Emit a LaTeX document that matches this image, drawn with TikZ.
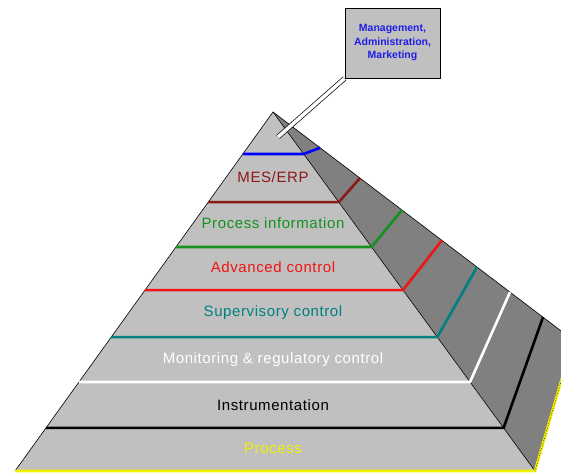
\documentclass[tikz,border=0pt]{standalone}
\usepackage{fontspec}
\setmainfont{Liberation Sans}
\usepackage{xcolor}
\usetikzlibrary{calc}

\definecolor{facegray}{RGB}{192,192,192}
\definecolor{sidegray}{RGB}{128,128,128}
\definecolor{mesred}{RGB}{140,24,24}
\definecolor{infogreen}{RGB}{20,145,30}
\definecolor{advred}{RGB}{240,20,20}
\definecolor{supteal}{RGB}{0,128,128}
\definecolor{boxblue}{RGB}{30,30,230}
\definecolor{procyellow}{RGB}{240,240,0}

\tikzset{
	tier/.style = {font = \fontsize{15}{18}\selectfont\addfontfeatures{LetterSpace=4}},
	band/.style = {line width = 2.6pt, line join = bevel},
	edge/.style = {line width = 0.6pt, black},
}

\begin{document}
\begin{tikzpicture}[x = 1pt, y = -1pt]
		\useasboundingbox (0,0) rectangle (561,473);
		\clip (0,0) rectangle (561,473);
		
		\coordinate (apex) at (273,112);
		\coordinate (bl) at (15,471);
		\coordinate (br) at (535,471);
		\coordinate (bk) at (573,340);
		
		% faces
		\fill [sidegray] (apex) -- (bk) -- (br) -- cycle;
		\fill [facegray] (apex) -- (bl) -- (br) -- cycle;
		\draw [edge] (bl) -- (apex) -- (br);
		\draw [edge] (apex) -- (bk);
		
		% layer boundaries
		\draw [band, blue] ($(apex)!0.117!(bl)$) -- ($(apex)!0.117!(br)$) -- ($(apex)!0.157!(bk)$);
		\draw [band, mesred] ($(apex)!0.251!(bl)$) -- ($(apex)!0.251!(br)$) -- ($(apex)!0.29!(bk)$);
		\draw [band, infogreen] ($(apex)!0.376!(bl)$) -- ($(apex)!0.376!(br)$) -- ($(apex)!0.43!(bk)$);
		\draw [band, advred] ($(apex)!0.496!(bl)$) -- ($(apex)!0.496!(br)$) -- ($(apex)!0.563!(bk)$);
		\draw [band, supteal] ($(apex)!0.627!(bl)$) -- ($(apex)!0.627!(br)$) -- ($(apex)!0.68!(bk)$);
		\draw [band, white] ($(apex)!0.752!(bl)$) -- ($(apex)!0.752!(br)$) -- ($(apex)!0.79!(bk)$);
		\draw [band, black] ($(apex)!0.88!(bl)$) -- ($(apex)!0.88!(br)$) -- ($(apex)!0.9!(bk)$);
		\draw [band, procyellow] (bl) -- (br) -- (bk);
		\draw [edge, dotted] (br) -- (bk);
		
		% labels
		\node [tier, text = mesred] (mes) at (273,177) {MES/ERP};
		\node [tier, text = infogreen] (info) at (273,223) {Process information};
		\node [tier, text = advred] (adv) at (273,267) {Advanced control};
		\node [tier, text = supteal] (sup) at (273,313) {Supervisory control};
		\node [tier, text = white] (mon) at (273,360) {Monitoring \& regulatory control};
		\node [tier, text = black] (instr) at (273,405) {Instrumentation};
		\node [tier, text = procyellow] (proc) at (273,448) {Process};
		
		% management callout
		\node [draw, line width = 0.8pt, fill = facegray, minimum width = 95, minimum height = 70, inner sep = 0pt, align = center, text = boxblue, font = \fontsize{10.5}{13.5}\selectfont\bfseries] (mgmt) at (392.5,43) {Management,\\Administration,\\Marketing};
		\coordinate (tip) at (278,137);
		\draw [line width = 0.7pt, double = white, double distance = 3.5pt] (mgmt.south west) -- (tip);
	\end{tikzpicture}
\end{document}
